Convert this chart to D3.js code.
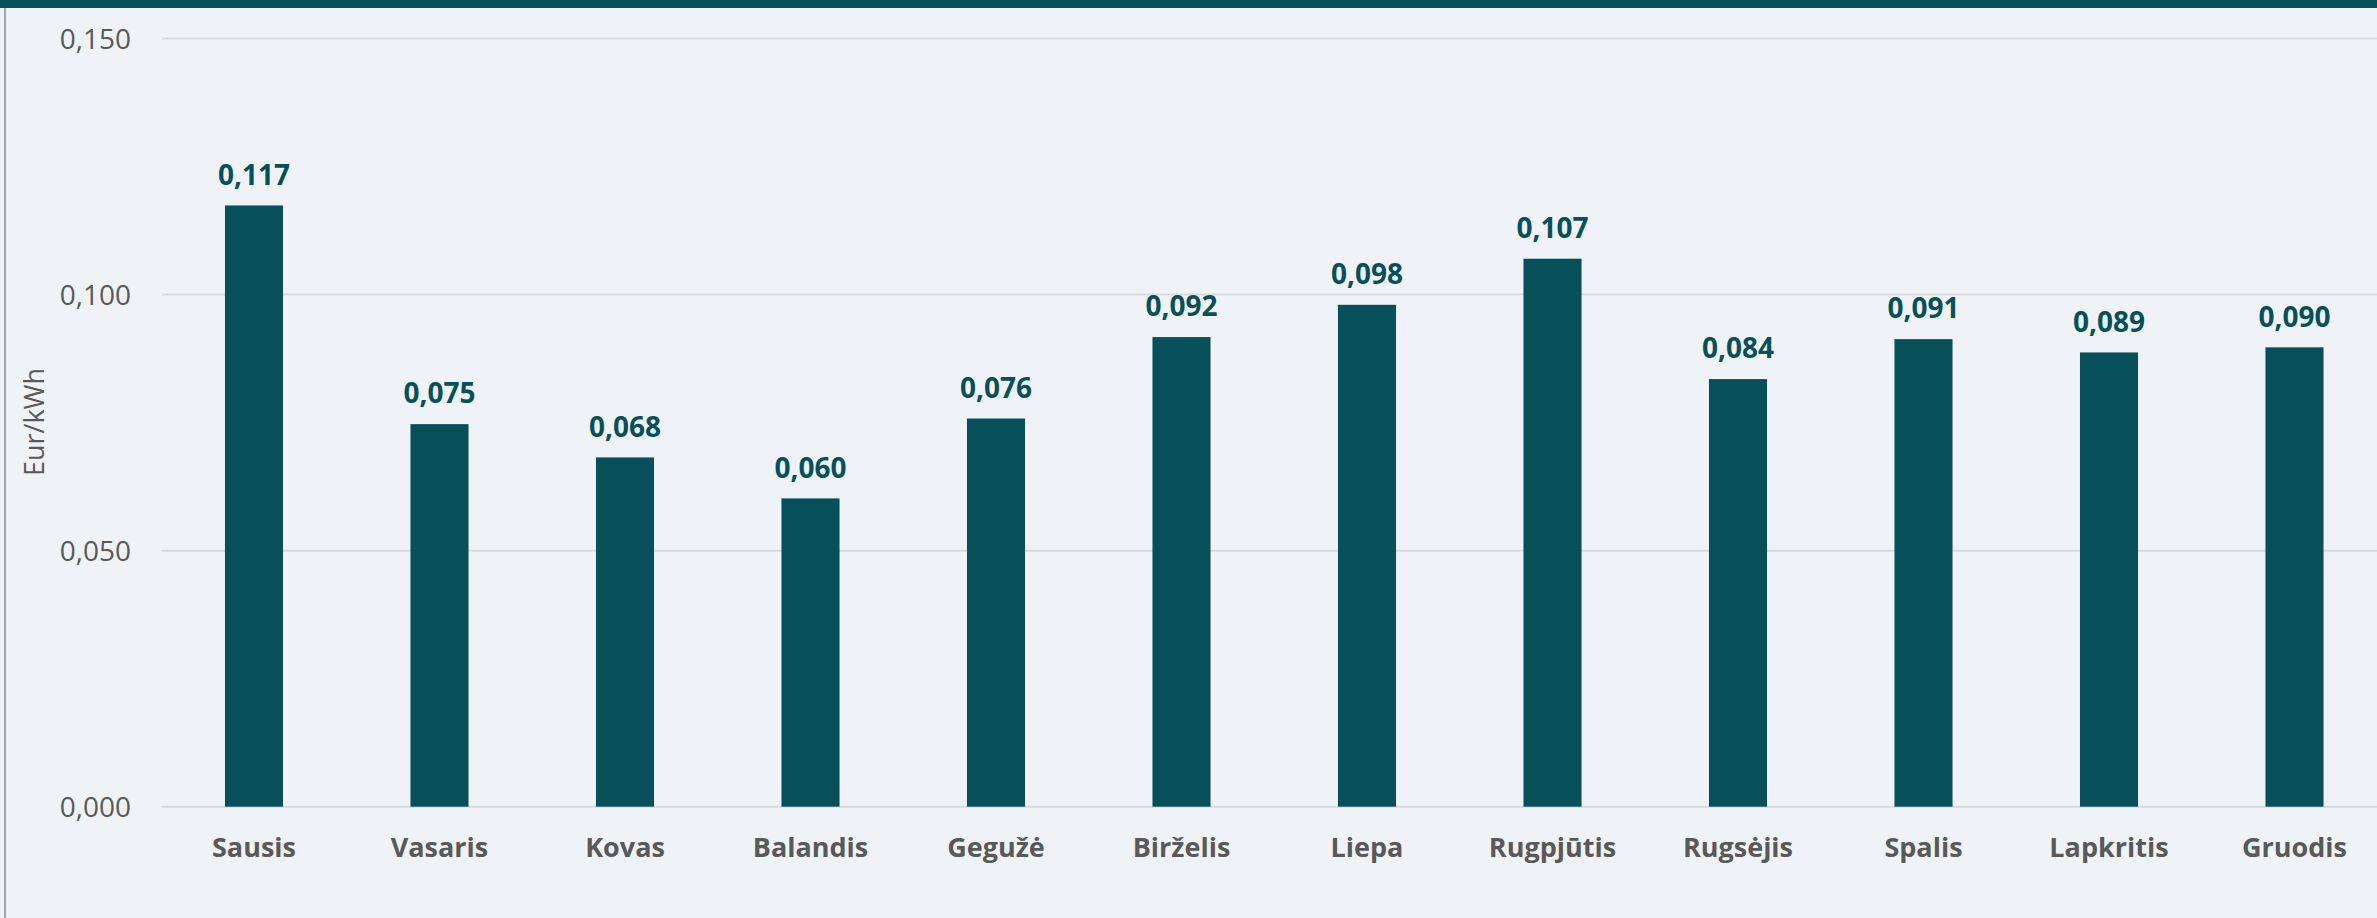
<!DOCTYPE html>
<html>
<head>
<meta charset="utf-8">
<script src="https://cdn.jsdelivr.net/npm/d3@7"></script>
<style>
  html, body { margin: 0; padding: 0; background: #eff3f7; }
  svg { display: block; }
</style>
</head>
<body>
<div id="chart"></div>
<script>
// monthly values, Eur/kWh
const months = ['Sausis', 'Vasaris', 'Kovas', 'Balandis', 'Gegužė', 'Birželis',
  'Liepa', 'Rugpjūtis', 'Rugsėjis', 'Spalis', 'Lapkritis', 'Gruodis'];
const prices = [0.1174, 0.0747, 0.0682, 0.0602, 0.0758, 0.0917,
  0.0980, 0.1070, 0.0835, 0.0913, 0.0887, 0.0897];
const yTicks = [0, 0.05, 0.1, 0.15];
const yTitle = 'Eur/kWh';

const width = 2377, height = 918;
const teal = '#07505a';
const grey = '#595959';
const font = '"Open Sans", "Noto Sans", sans-serif';

const lt = d3.formatLocale({ decimal: ',', thousands: ' ', grouping: [3], currency: ['', '€'] });
const fmt = lt.format('.3f');

const svg = d3.select('#chart')
  .append('svg')
  .attr('width', width)
  .attr('height', height)
  .attr('font-family', font);

svg.append('rect')
  .attr('width', width)
  .attr('height', height)
  .attr('fill', '#eff3f7');

// top band + left frame line
svg.append('rect')
  .attr('x', 0).attr('y', 0)
  .attr('width', width).attr('height', 8)
  .attr('fill', teal);
svg.append('line')
  .attr('x1', 5).attr('x2', 5)
  .attr('y1', 8).attr('y2', height)
  .attr('stroke', '#a6a6a6')
  .attr('stroke-width', 2);

const x = d3.scaleBand()
  .domain(months)
  .range([161.25, 2387.25])
  .paddingInner(0.687)
  .paddingOuter(0.687 / 2);

const y = d3.scaleLinear()
  .domain([0, 0.15])
  .range([806.7, 38.5]);

// gridlines
svg.append('g')
  .selectAll('line')
  .data(yTicks)
  .join('line')
  .attr('x1', 162)
  .attr('x2', width)
  .attr('y1', d => y(d))
  .attr('y2', d => y(d))
  .attr('stroke', '#d9d9d9')
  .attr('stroke-width', 2);

// y tick labels
svg.append('g')
  .selectAll('text')
  .data(yTicks)
  .join('text')
  .attr('x', 131)
  .attr('y', d => y(d))
  .attr('dy', 10)
  .attr('text-anchor', 'end')
  .attr('font-size', 28)
  .attr('fill', grey)
  .text(d => fmt(d));

svg.append('text')
  .attr('transform', 'translate(44,422) rotate(-90)')
  .attr('text-anchor', 'middle')
  .attr('font-size', 27)
  .attr('fill', grey)
  .text(yTitle);

const data = months.map((m, i) => ({ month: m, value: prices[i] }));

svg.append('g')
  .selectAll('rect')
  .data(data)
  .join('rect')
  .attr('x', d => x(d.month))
  .attr('y', d => y(d.value))
  .attr('width', x.bandwidth())
  .attr('height', d => y(0) - y(d.value))
  .attr('fill', teal);

// value labels
svg.append('g')
  .selectAll('text')
  .data(data)
  .join('text')
  .attr('x', d => x(d.month) + x.bandwidth() / 2)
  .attr('y', d => y(d.value) - 20.7)
  .attr('text-anchor', 'middle')
  .attr('font-size', 28)
  .attr('font-weight', 'bold')
  .attr('fill', teal)
  .text(d => fmt(d.value));

// month labels
svg.append('g')
  .selectAll('text')
  .data(months)
  .join('text')
  .attr('x', d => x(d) + x.bandwidth() / 2)
  .attr('y', 856.7)
  .attr('text-anchor', 'middle')
  .attr('font-size', 27)
  .attr('font-weight', 'bold')
  .attr('fill', grey)
  .text(d => d);
</script>
</body>
</html>
